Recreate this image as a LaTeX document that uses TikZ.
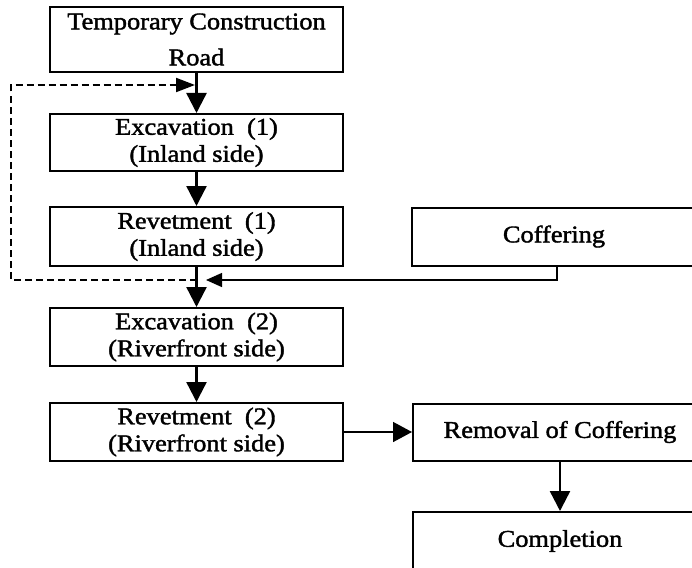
\documentclass[tikz,border=0pt]{standalone}
\usepackage{fontspec}
\setmainfont{Liberation Serif}[FakeStretch=1.1,FakeBold=1.6]
\usetikzlibrary{arrows.meta}
\begin{document}
\begin{tikzpicture}[x=1pt,y=-1pt,
  box/.style={draw,line width=2pt,rectangle,inner sep=0pt,align=center,
    font=\fontsize{24}{27}\selectfont},
  leftbox/.style={box,minimum width=293pt,minimum height=58pt},
  rightbox/.style={box,minimum width=294pt,minimum height=58pt},
  flow/.style={line width=2.4pt,-{Triangle[length=20pt,width=20pt]}},
  link/.style={line width=1.5pt,-{Triangle[length=19pt,width=20pt]}},
  loopback/.style={line width=2pt,dash pattern=on 7pt off 4pt,
    -{Triangle[length=19pt,width=14pt]}},
  feed/.style={line width=1.3pt,-{Triangle[length=16pt,width=14pt]}}]
\useasboundingbox (0,0) rectangle (692,567);
\clip (0,0) rectangle (692,567);
\fill[white] (0,0) rectangle (692,567);

% main sequence, left column
\node[leftbox,minimum height=65pt] (tcr) at (196.5,39.5)
  {Temporary Construction\\[9pt]Road};
\node[leftbox,minimum height=57pt] (exc1) at (196.5,142.5)
  {Excavation~ (1)\\(Inland side)};
\node[leftbox,minimum height=59pt] (rev1) at (196.5,236.5)
  {Revetment~ (1)\\(Inland side)};
\node[leftbox] (exc2) at (196.5,337)
  {Excavation~ (2)\\(Riverfront side)};
\node[leftbox] (rev2) at (196.5,432)
  {Revetment~ (2)\\(Riverfront side)};

% right column
\node[box,minimum width=284pt,minimum height=58pt] (coff) at (554,236.5) {Coffering};
\node[rightbox,minimum height=57pt] (remv) at (560,432) {Removal of Coffering};
\node[rightbox] (done) at (560,541) {Completion};

% junctions on the main line
\coordinate (j1) at (196.5,280);
\coordinate (j2) at (195,85);
\coordinate (lft) at (11,0);
\coordinate (j3) at (206,280);

% arrows
\draw[flow] (tcr.south) -- (exc1.north);
\draw[flow] (exc1.south) -- (rev1.north);
\draw[flow] (rev1.south) -- (exc2.north);
\draw[flow] (exc2.south) -- (rev2.north);
\draw[flow] (remv.south) -- (done.north);
\draw[link] (rev2.east) -- (remv.west);

% repeat loop back to the first excavation
\draw[loopback] (j1) -- (j1 -| lft) -- (lft |- j2) -- (j2);

% coffering feeds into the riverfront excavation
\draw[feed] ([xshift=3pt]coff.south) |- (j3);
\end{tikzpicture}
\end{document}
